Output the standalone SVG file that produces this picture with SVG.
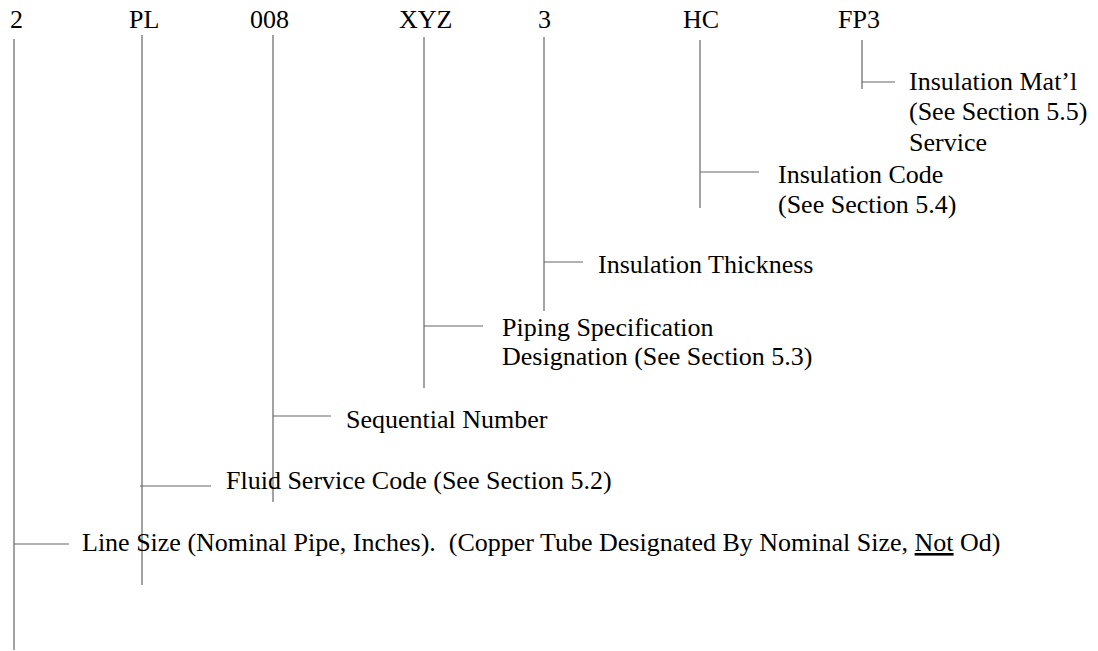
<svg xmlns="http://www.w3.org/2000/svg" width="1098" height="651" viewBox="0 0 1098 651">
<style>
text{font-family:"Liberation Serif","Times New Roman",serif;font-size:26px;fill:#000;white-space:pre}
line{stroke:#666;stroke-width:1.2;fill:none}
</style>
<rect width="1098" height="651" fill="#fff"/>
<g id="codes">
<text x="10" y="28">2</text>
<text x="129" y="28">PL</text>
<text x="250" y="28">008</text>
<text x="399" y="28">XYZ</text>
<text x="538" y="28">3</text>
<text x="683" y="28">HC</text>
<text x="838" y="28">FP3</text>
</g>
<g id="connectors">
<line x1="14" y1="39" x2="14" y2="650"/>
<line x1="14" y1="544" x2="69" y2="544"/>
<line x1="142" y1="35" x2="142" y2="585"/>
<line x1="140" y1="486" x2="211" y2="486"/>
<line x1="273" y1="35" x2="273" y2="502"/>
<line x1="273" y1="416" x2="331" y2="416"/>
<line x1="424" y1="37" x2="424" y2="388"/>
<line x1="424" y1="326" x2="483" y2="326"/>
<line x1="544" y1="37" x2="544" y2="311"/>
<line x1="544" y1="262" x2="583" y2="262"/>
<line x1="700" y1="40" x2="700" y2="208"/>
<line x1="700" y1="172" x2="759" y2="172"/>
<line x1="862" y1="40" x2="862" y2="89"/>
<line x1="862" y1="82" x2="895" y2="82"/>
</g>
<g id="label-matl">
<text x="909" y="90">Insulation Mat’l</text>
<text x="909" y="120">(See Section 5.5)</text>
<text x="909" y="151">Service</text>
</g>
<g id="label-inscode">
<text x="778" y="183">Insulation Code</text>
<text x="778" y="213">(See Section 5.4)</text>
</g>
<g id="label-thickness">
<text x="598" y="273">Insulation Thickness</text>
</g>
<g id="label-piping">
<text x="502" y="336">Piping Specification</text>
<text x="502" y="365">Designation (See Section 5.3)</text>
</g>
<g id="label-sequential">
<text x="346" y="428">Sequential Number</text>
</g>
<g id="label-fluid">
<text x="226" y="489">Fluid Service Code (See Section 5.2)</text>
</g>
<g id="label-linesize">
<text x="82" y="551">Line Size (Nominal Pipe, Inches).  (Copper Tube Designated By Nominal Size, <tspan text-decoration="underline">Not</tspan> Od)</text>
</g>
</svg>
